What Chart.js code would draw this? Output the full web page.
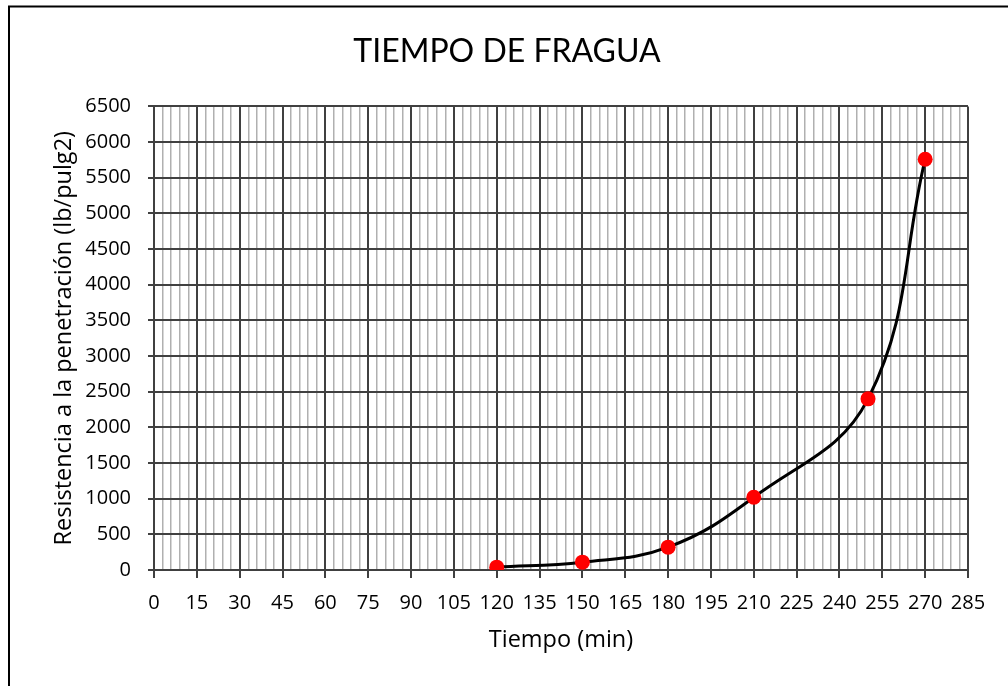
<!DOCTYPE html>
<html>
<head>
<meta charset="utf-8">
<script src="https://cdn.jsdelivr.net/npm/chart.js@4"></script>
<style>
  html, body { margin: 0; padding: 0; background: #fff; }
  #wrap { width: 1008px; height: 686px; }
</style>
</head>
<body>
<div id="wrap"><canvas id="fragua" width="1008" height="686"></canvas></div>
<script>
// Data
const tiempo = [120, 150, 180, 210, 250, 270];
const resistencia = [40, 110, 320, 1020, 2400, 5760];

// Axis ranges
const X_MAX = 285, X_MAJOR = 15, X_MINOR = 3;
const Y_MAX = 6500, Y_MAJOR = 500;

const TITLE_FONT = 'Lato, sans-serif';
const FONT = '"Open Sans", sans-serif';
const MAJOR_COLOR = '#404040';
const MINOR_COLOR = '#b0b0b0';

const isMajor = v => Math.abs(v % X_MAJOR) < 1e-6;

// white background + frame on the left/top edges
const frame = {
    id: 'frame',
    beforeDraw(chart) {
        const ctx = chart.ctx;
        ctx.save();
        ctx.fillStyle = '#fff';
        ctx.fillRect(0, 0, chart.width, chart.height);
        ctx.strokeStyle = '#000';
        ctx.lineWidth = 2;
        ctx.beginPath();
        ctx.moveTo(9, chart.height + 5);
        ctx.lineTo(9, 6.5);
        ctx.lineTo(chart.width + 5, 6.5);
        ctx.stroke();
        ctx.restore();
    }
};

new Chart(document.getElementById('fragua'), {
    type: 'line',
    data: {
        datasets: [{
            data: tiempo.map((t, i) => ({ x: t, y: resistencia[i] })),
            borderColor: '#000',
            borderWidth: 3,
            tension: 0.4,
            pointRadius: 7.5,
            pointBackgroundColor: '#ff0000',
            pointBorderWidth: 0,
            fill: false
        }]
    },
    options: {
        responsive: false,
        animation: false,
        layout: { padding: { left: 46, right: 40, top: 0, bottom: 28 } },
        plugins: {
            legend: { display: false },
            tooltip: { enabled: false },
            title: {
                display: true,
                text: 'TIEMPO DE FRAGUA',
                color: '#000',
                font: { family: TITLE_FONT, size: 32, weight: 'normal' },
                padding: { top: 32, bottom: 36 }
            }
        },
        scales: {
            x: {
                type: 'linear',
                min: 0,
                max: X_MAX,
                afterFit(scale) { scale.height = 88; },
                ticks: {
                    stepSize: X_MINOR,
                    autoSkip: false,
                    maxRotation: 0,
                    padding: 13,
                    color: '#000',
                    font: { family: FONT, size: 20 },
                    callback: v => isMajor(v) ? String(v) : ''
                },
                grid: {
                    color: c => isMajor(c.tick.value) ? MAJOR_COLOR : MINOR_COLOR,
                    lineWidth: c => isMajor(c.tick.value) ? 2 : 1.5,
                    tickColor: c => isMajor(c.tick.value) ? MAJOR_COLOR : 'rgba(0,0,0,0)',
                    tickLength: 8,
                    tickWidth: 2
                },
                border: { color: MAJOR_COLOR, width: 2 },
                title: {
                    display: true,
                    text: 'Tiempo (min)',
                    color: '#000',
                    font: { family: FONT, size: 23.5 },
                    padding: 4
                }
            },
            y: {
                min: 0,
                max: Y_MAX,
                afterFit(scale) { scale.width = 108; },
                ticks: {
                    stepSize: Y_MAJOR,
                    padding: 17,
                    color: '#000',
                    font: { family: FONT, size: 20 },
                    callback: v => String(v)
                },
                grid: {
                    color: MAJOR_COLOR,
                    lineWidth: 2,
                    tickLength: 6,
                    tickWidth: 2
                },
                border: { color: MAJOR_COLOR, width: 2 },
                title: {
                    display: true,
                    text: 'Resistencia a la penetración (lb/pulg2)',
                    color: '#000',
                    font: { family: FONT, size: 23.5 },
                    padding: 4
                }
            }
        }
    },
    plugins: [frame]
});
</script>
</body>
</html>
